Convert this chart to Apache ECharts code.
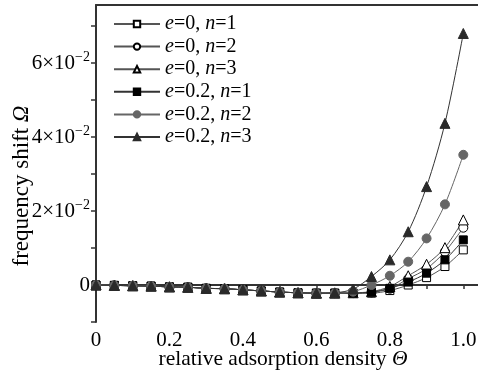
<!DOCTYPE html>
<html>
<head>
<meta charset="utf-8">
<script src="https://cdn.jsdelivr.net/npm/echarts@6/dist/echarts.min.js"></script>
<style>
  html, body { margin: 0; padding: 0; background: #fff; }
  #chart { width: 478px; height: 376px; }
</style>
</head>
<body>
<div id="chart"></div>
<script>
// relative adsorption density
const theta = [0, 0.05, 0.1, 0.15, 0.2, 0.25, 0.3, 0.35, 0.4, 0.45, 0.5,
  0.55, 0.6, 0.65, 0.7, 0.75, 0.8, 0.85, 0.9, 0.95, 1.0];

// frequency shift
const e0n1 = [0, -0.0001, -0.0002, -0.0003, -0.0005, -0.0006, -0.0009, -0.001, -0.0013, -0.0016, -0.0019,
  -0.0021, -0.0022, -0.0022, -0.0022, -0.0022, -0.0015, 0.0, 0.002, 0.005, 0.0095];
const e0n2 = [0, -0.0001, -0.0002, -0.0003, -0.0005, -0.0006, -0.0009, -0.001, -0.0013, -0.0016, -0.0019,
  -0.0021, -0.0022, -0.0022, -0.0022, -0.002, -0.001, 0.0017, 0.0044, 0.009, 0.0155];
const e0n3 = [0, -0.0001, -0.0002, -0.0003, -0.0005, -0.0006, -0.0009, -0.001, -0.0013, -0.0016, -0.0019,
  -0.0021, -0.0022, -0.0022, -0.0021, -0.0018, -0.0004, 0.0025, 0.0056, 0.0101, 0.0176];
const e2n1 = [0, -0.0001, -0.0002, -0.0003, -0.0005, -0.0006, -0.0009, -0.001, -0.0013, -0.0016, -0.0019,
  -0.0021, -0.0022, -0.0022, -0.0022, -0.0019, -0.0009, 0.0008, 0.0032, 0.0068, 0.0122];
const e2n2 = [0, -0.0001, -0.0002, -0.0003, -0.0005, -0.0006, -0.0009, -0.001, -0.0013, -0.0016, -0.0019,
  -0.0021, -0.0022, -0.0022, -0.0018, 0.0, 0.0025, 0.0063, 0.0126, 0.0218, 0.0352];
const e2n3 = [0, -0.0001, -0.0002, -0.0003, -0.0005, -0.0006, -0.0009, -0.001, -0.0013, -0.0016, -0.0019,
  -0.0021, -0.0022, -0.0021, -0.0011, 0.0023, 0.0068, 0.0144, 0.0266, 0.0437, 0.068];

const seriesNames = ["e=0, n=1", "e=0, n=2", "e=0, n=3", "e=0.2, n=1", "e=0.2, n=2", "e=0.2, n=3"];

const xLabelValues = [0, 0.2, 0.4, 0.6, 0.8, 1.0];
const xTickValues = [0, 0.1, 0.2, 0.3, 0.4, 0.5, 0.6, 0.7, 0.8, 0.9, 1.0];
const yLabelValues = [0, 0.02, 0.04, 0.06];
const yTickValues = [-0.01, 0, 0.01, 0.02, 0.03, 0.04, 0.05, 0.06, 0.07];

const FONT = "Liberation Serif";
const AXIS = "#333";

const pairs = (ys) => theta.map((t, i) => [t, ys[i]]);

function makeSeries(name, ys, symbol, size, fill, lineColor) {
  return {
    name: name,
    type: "line",
    data: pairs(ys),
    smooth: 0.3,
    symbol: symbol,
    symbolSize: size,
    showAllSymbol: true,
    lineStyle: { color: lineColor, width: 1 },
    itemStyle: { color: fill, borderColor: "#000", borderWidth: 1 },
    emphasis: { disabled: true },
  };
}

const series = [
  makeSeries(seriesNames[0], e0n1, "rect", 8, "#fff", "#555"),
  makeSeries(seriesNames[1], e0n2, "circle", 9, "#fff", "#555"),
  makeSeries(seriesNames[2], e0n3, "triangle", 10, "#fff", "#555"),
  makeSeries(seriesNames[3], e2n1, "rect", 8, "#000", "#333"),
  makeSeries(seriesNames[4], e2n2, "circle", 9, "#666", "#666"),
  makeSeries(seriesNames[5], e2n3, "triangle", 10, "#2a2a2a", "#333"),
];
series[4].itemStyle.borderColor = "#666";
series[5].itemStyle.borderColor = "#2a2a2a";

const italic = (size) => ({ fontFamily: FONT, fontStyle: "italic", fontSize: size, color: "#000" });

const chart = echarts.init(document.getElementById("chart"), null, { renderer: "canvas" });

chart.setOption({
  animation: false,
  backgroundColor: "#fff",
  textStyle: { fontFamily: FONT },
  grid: { left: 96, right: 0, top: 5, bottom: 54, containLabel: false, outerBoundsMode: "none" },
  legend: {
    orient: "vertical",
    left: 108,
    top: 9,
    itemWidth: 46,
    itemHeight: 8,
    itemGap: 2.6,
    data: seriesNames,
    formatter: (name) => name.replace("e=", "{i|e}=").replace("n=", "{i|n}="),
    textStyle: {
      fontFamily: FONT, fontSize: 20, lineHeight: 20, color: "#000",
      rich: { i: Object.assign(italic(20), { lineHeight: 20 }) },
    },
  },
  graphic: [
    {
      type: "text",
      x: 22,
      y: 186,
      rotation: Math.PI / 2,
      style: {
        text: "frequency shift {i|Ω}",
        font: "23px " + FONT,
        fill: "#000",
        align: "center",
        verticalAlign: "middle",
        rich: { i: italic(23) },
      },
    },
    {
      type: "text",
      x: 283,
      y: 359,
      style: {
        text: "relative adsorption density {i|Θ}",
        font: "21.5px " + FONT,
        fill: "#000",
        align: "center",
        verticalAlign: "middle",
        rich: { i: italic(21.5) },
      },
    },
  ],
  xAxis: [
    {
      type: "value",
      min: 0,
      max: 1.04,
      axisLine: { show: true, lineStyle: { color: AXIS, width: 2 } },
      axisTick: { show: true, length: 4, customValues: xTickValues, lineStyle: { color: AXIS, width: 1.5 } },
      axisLabel: {
        customValues: xLabelValues, margin: 8, fontFamily: FONT, fontSize: 21, color: "#000",
        formatter: (v) => (v === 0 ? "0" : v.toFixed(1)),
      },
      splitLine: { show: false },
    },
    {
      type: "value",
      position: "top",
      min: 0,
      max: 1.04,
      axisLine: { show: true, lineStyle: { color: AXIS, width: 2 } },
      axisTick: { show: false },
      axisLabel: { show: false },
      splitLine: { show: false },
    },
  ],
  yAxis: {
    type: "value",
    min: -0.01,
    max: 0.0757,
    axisLine: { show: true, lineStyle: { color: AXIS, width: 2 } },
    axisTick: { show: true, length: 5, customValues: yTickValues, lineStyle: { color: AXIS, width: 1.5 } },
    axisLabel: {
      customValues: yLabelValues, margin: 6, fontFamily: FONT, fontSize: 21, color: "#000",
      formatter: (v) => (v === 0 ? "0" : Math.round(v * 100) + "×10{sup|−2}"),
      rich: {
        sup: { fontFamily: FONT, fontSize: 14, color: "#000", verticalAlign: "top", padding: [0, 0, 11, 0] },
      },
    },
    splitLine: { show: false },
  },
  series: series,
});
</script>
</body>
</html>
